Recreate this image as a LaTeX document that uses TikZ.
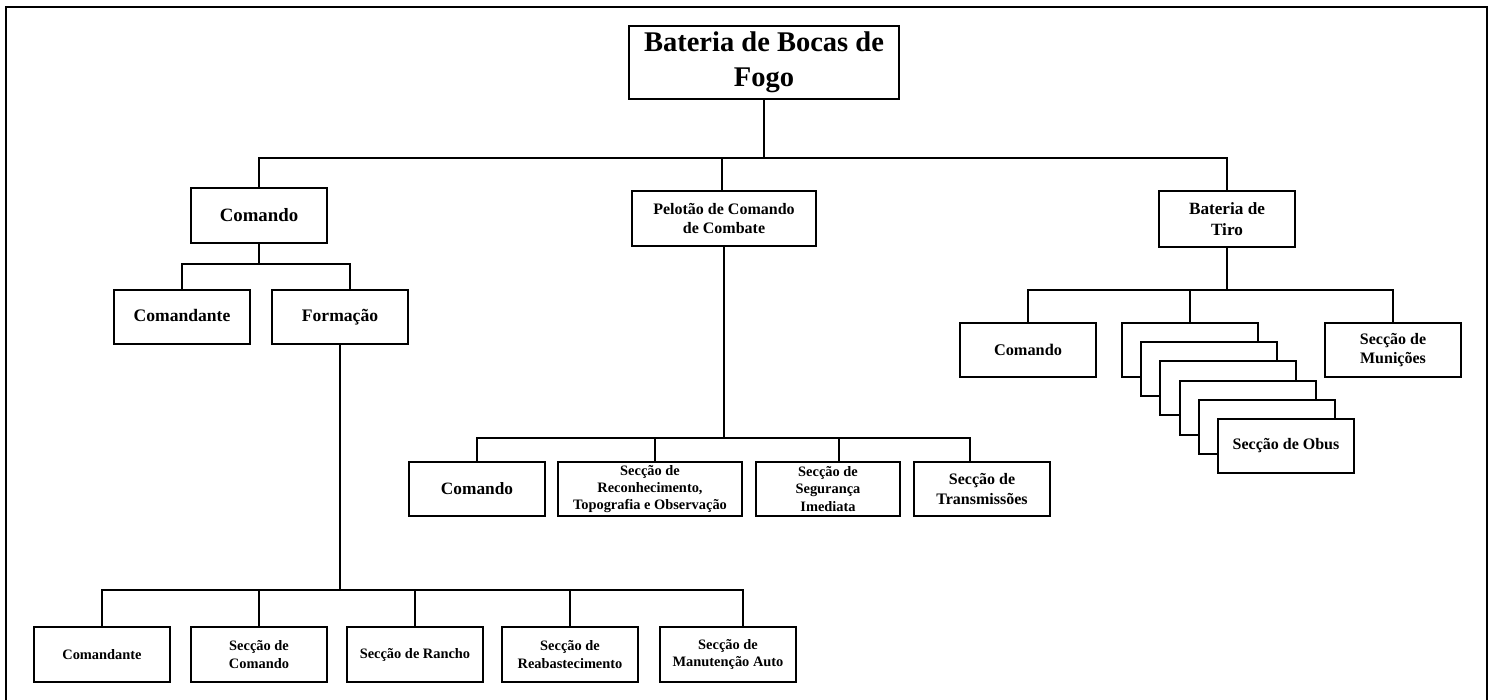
\documentclass[tikz,border=0pt]{standalone}
\usepackage{fontspec}
\setmainfont{Liberation Serif}
\begin{document}
\begin{tikzpicture}[x=1pt,y=-1pt]
\tikzset{
  box/.style={draw, line width=1.9pt, fill=white, inner sep=0pt, align=center, minimum width=136pt, minimum height=54pt},
  conn/.style={line width=1.9pt},
  frame/.style={line width=2.6pt},
  oneline/.style={text height=12.5pt, text depth=4pt},
  fs/.style n args={2}{font=\fontsize{#1}{#2}\selectfont\bfseries}
}
\useasboundingbox (0,0) rectangle (1497,700);
\draw[frame] (6,700) -- (6,7) -- (1487,7) -- (1487,700);

% level 0
\node[box, minimum width=270pt, minimum height=73pt, fs={28.5}{35}] (top) at (764,62.5) {Bateria de Bocas de\\Fogo};

% level 1
\node[box, minimum height=55pt, fs={18.8}{22}] (cmd) at (259,215.5) {Comando};
\node[box, minimum width=184pt, minimum height=55pt, fs={16}{19}] (pel) at (724,218.5) {Pelotão de Comando\\de Combate};
\node[box, minimum height=56pt, fs={17.2}{21}] (bt) at (1227,219) {Bateria de\\Tiro};

% under Comando
\node[box, oneline, fs={17.6}{21}] (cmdt) at (182,317) {Comandante};
\node[box, oneline, fs={17.6}{21}] (form) at (340,317) {Formação};

% under Formação
\node[box, minimum height=55pt, fs={14.4}{17.5}] (b1) at (102,654.5) {Comandante};
\node[box, minimum height=55pt, fs={14.4}{17.5}] (b2) at (259,654.5) {Secção de\\Comando};
\node[box, minimum height=55pt, fs={14.4}{17.5}] (b3) at (415,654.5) {Secção de Rancho};
\node[box, minimum height=55pt, fs={14.4}{17.5}] (b4) at (570,654.5) {Secção de\\Reabastecimento};
\node[box, minimum height=55pt, fs={14.4}{17.5}] (b5) at (728,654.5) {Secção de\\Manutenção Auto};

% under Pelotão
\node[box, fs={17.3}{21}] (m1) at (477,489) {Comando};
\node[box, minimum width=184pt, fs={14.4}{17.3}] (m2) at (650,489) {Secção de\\Reconhecimento,\\Topografia e Observação};
\node[box, minimum width=144pt, fs={14.4}{17.3}] (m3) at (828,489) {Secção de\\Segurança\\Imediata};
\node[box, fs={16}{20}] (m4) at (982,489) {Secção de\\Transmissões};

% under Bateria de Tiro
\node[box, fs={16.3}{20}] (t1) at (1028,350) {Comando};
\node[box] (s1) at (1190,350) {};
\node[box] (s2) at (1209,369) {};
\node[box] (s3) at (1228,388) {};
\node[box] (s4) at (1248,408) {};
\node[box] (s5) at (1267,427) {};
\node[box, fs={16}{19}] (s6) at (1286,446) {Secção de Obus};
\node[box, fs={16}{18.5}] (mun) at (1393,350) {Secção de\\Munições};

% connectors level 0 -> 1
\coordinate (j1) at (764,158);
\draw[conn] (top.south) -- (j1);
\draw[conn] (cmd.north) |- (j1) -| (bt.north);
\draw[conn] ([xshift=-2pt]pel.north) -- ([xshift=-2pt]pel.north |- j1);

% Comando
\coordinate (j2) at (259,264);
\draw[conn] (cmd.south) -- (j2);
\draw[conn] (cmdt.north) |- (j2) -| ([xshift=10pt]form.north);

% Formação
\coordinate (j3) at (340,590);
\draw[conn] (form.south) -- (j3);
\draw[conn] (b1.north) |- (j3) -| ([xshift=15pt]b5.north);
\draw[conn] (b2.north) -- (b2.north |- j3);
\draw[conn] (b3.north) -- (b3.north |- j3);
\draw[conn] (b4.north) -- (b4.north |- j3);

% Pelotão
\coordinate (j4) at (724,438);
\draw[conn] (pel.south) -- (j4);
\draw[conn] (m1.north) |- (j4) -| ([xshift=-12pt]m4.north);
\draw[conn] ([xshift=5pt]m2.north) -- ([xshift=5pt]m2.north |- j4);
\draw[conn] ([xshift=11pt]m3.north) -- ([xshift=11pt]m3.north |- j4);

% Bateria de Tiro
\coordinate (j5) at (1227,290);
\draw[conn] (bt.south) -- (j5);
\draw[conn] (t1.north) |- (j5) -| (mun.north);
\draw[conn] (s1.north) -- (s1.north |- j5);
\end{tikzpicture}
\end{document}
